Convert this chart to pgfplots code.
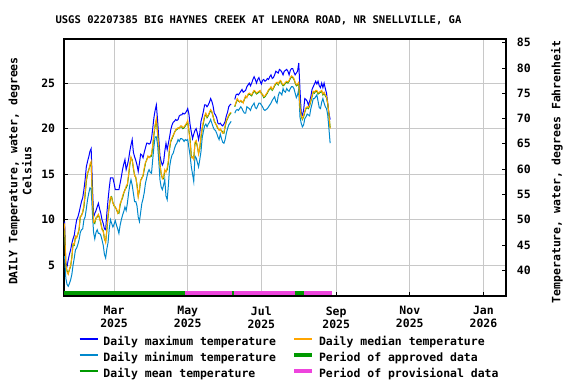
\documentclass[border=0pt]{standalone}
\usepackage{fontspec}
\setmainfont{DejaVu Sans Mono}
\usepackage{pgfplots}
\usepackage{pgfplotstable}
\pgfplotsset{compat=1.18}
\definecolor{cmax}{RGB}{0,0,255}
\definecolor{cmin}{RGB}{0,136,204}
\definecolor{cmean}{RGB}{0,153,0}
\definecolor{cmed}{RGB}{255,165,0}
\definecolor{cappr}{RGB}{0,153,0}
\definecolor{cprov}{RGB}{238,68,221}
\definecolor{cgrid}{RGB}{200,200,200}
\newcommand{\lblfont}{\fontsize{8.6}{10.5}\selectfont\bfseries}
\pgfplotstableread{
d mx mn mean med
18 9.8 6.0 8.8 9.6
19 5.2 3.6 5.0 5.1
20 4.9 2.9 4.4 4.3
21 5.6 2.7 4.1 4.0
22 6.2 3.0 4.5 4.6
23 6.7 3.4 4.9 5.0
24 7.4 4.0 5.9 5.8
25 7.9 5.0 7.3 7.4
26 8.3 5.8 7.2 7.3
27 9.2 6.7 8.1 8.2
28 10.0 6.9 8.1 8.0
29 10.3 7.3 8.4 8.5
30 10.8 7.8 8.9 9.0
31 11.4 8.6 10.3 10.4
32 12.0 8.9 10.5 10.4
33 12.4 9.0 10.8 10.9
34 13.3 10.0 11.4 11.6
35 14.4 10.3 12.7 12.9
36 15.8 11.2 14.2 14.4
37 16.4 12.2 15.0 15.2
38 16.9 12.9 15.5 15.4
39 17.5 13.5 15.9 16.1
40 17.8 13.4 16.2 16.4
41 14.0 10.8 12.6 12.4
42 10.3 8.6 9.8 9.7
43 10.7 7.9 9.6 9.8
44 11.0 8.6 10.2 10.1
45 11.4 8.9 10.3 10.4
46 11.8 8.5 10.5 10.6
47 11.2 8.5 10.2 10.1
48 10.7 8.3 9.6 9.7
49 10.0 7.8 9.0 8.9
50 9.6 7.2 8.8 8.7
51 9.0 6.2 7.9 8.0
52 8.9 5.8 7.6 7.5
53 10.7 6.8 8.8 9.0
54 12.2 7.5 10.3 10.5
55 13.5 9.0 11.5 11.6
56 14.6 10.0 12.3 12.5
57 14.6 9.6 12.5 12.4
58 14.6 9.2 11.9 11.8
59 14.0 9.5 11.5 11.6
60 13.3 9.9 11.4 11.3
61 13.3 9.4 11.1 11.2
62 13.3 9.0 10.8 10.7
63 13.3 8.5 10.7 10.9
64 14.0 9.4 11.6 11.8
65 14.7 10.0 12.1 12.0
66 15.5 10.5 12.4 12.6
67 16.1 10.9 12.9 13.0
68 16.6 11.4 13.3 13.2
69 15.5 11.0 13.5 13.7
70 16.0 11.8 13.8 13.9
71 16.6 12.9 14.8 15.0
72 17.5 13.8 16.0 16.1
73 18.2 14.4 16.8 16.9
74 18.8 13.8 16.6 16.5
75 17.4 12.9 15.6 15.8
76 16.9 12.0 14.9 14.8
77 16.5 12.0 14.6 14.7
78 16.0 11.5 13.8 13.7
79 15.3 10.3 12.6 12.5
80 16.2 9.8 13.2 13.4
81 17.2 10.8 14.3 14.4
82 17.1 11.8 14.6 14.5
83 16.8 12.3 14.8 14.9
84 17.4 13.0 15.5 15.7
85 17.9 14.0 16.2 16.3
86 18.4 14.6 16.6 16.5
87 18.4 15.2 16.9 17.0
88 18.3 15.5 16.9 16.8
89 18.4 15.2 16.9 17.0
90 18.9 15.1 17.0 17.2
91 20.0 16.6 18.0 18.2
92 21.2 18.0 19.3 19.5
93 22.0 19.1 20.3 20.4
94 22.6 19.1 20.9 21.1
95 21.0 18.3 19.6 19.5
96 19.0 16.5 18.0 18.1
97 17.0 14.4 16.2 16.0
98 16.4 13.6 15.0 15.1
99 16.0 13.3 14.6 14.5
100 16.3 13.8 14.5 14.7
101 17.5 14.4 15.4 15.5
102 18.4 12.6 15.3 15.2
103 17.7 12.2 15.5 15.7
104 18.4 13.8 16.3 16.5
105 19.1 15.8 17.8 18.0
106 19.9 16.6 18.6 18.7
107 20.4 17.1 18.9 19.0
108 20.7 17.3 19.2 19.3
109 20.8 17.8 19.6 19.5
110 21.0 18.2 19.8 19.9
111 20.9 18.4 19.9 20.0
112 21.0 18.8 20.0 20.1
113 21.4 18.6 20.1 20.0
114 21.5 18.9 20.2 20.3
115 21.5 18.9 20.2 20.3
116 21.7 18.8 20.0 20.1
117 21.6 18.6 20.1 20.2
118 21.7 18.8 20.3 20.4
119 21.9 18.7 20.5 20.6
120 22.2 18.8 20.7 20.9
121 21.6 17.9 19.8 19.7
122 20.4 17.0 18.8 18.6
123 19.6 15.8 17.0 16.8
124 18.9 15.0 16.8 16.9
125 19.4 14.2 16.8 16.6
126 19.8 17.0 18.3 18.5
127 20.0 16.8 18.6 18.7
128 19.5 16.3 18.0 18.1
129 18.8 15.8 17.3 17.2
130 19.5 16.6 17.8 17.9
131 20.8 17.5 19.0 19.2
132 21.3 19.0 20.0 20.1
133 21.9 19.7 20.6 20.8
134 22.6 20.3 21.3 21.4
135 22.6 20.5 21.6 21.7
136 22.4 20.2 21.2 21.3
137 22.6 20.5 21.4 21.5
138 22.9 20.7 21.7 21.8
139 23.3 21.0 22.0 22.1
140 23.0 20.6 21.8 21.9
141 22.5 20.2 21.4 21.3
142 21.7 19.9 20.8 20.9
143 21.5 19.8 20.6 20.5
144 21.2 19.5 20.3 20.4
145 20.6 19.1 20.0 20.1
146 20.5 18.8 19.9 19.8
147 20.6 19.4 19.9 20.0
148 20.4 18.9 19.8 19.7
149 20.3 18.5 19.6 19.5
150 20.5 18.4 19.5 19.6
151 20.8 18.8 20.2 20.3
152 21.4 19.5 20.8 20.9
153 21.8 20.0 21.1 21.2
154 22.4 20.4 21.4 21.5
155 22.6 20.6 21.6 21.7
156 22.7 20.8 21.7 21.8
157 nan nan nan nan
158 nan nan nan nan
159 23.2 21.7 22.4 22.5
160 23.7 22.0 22.8 22.9
161 23.8 22.1 23.2 23.3
162 23.7 22.0 23.0 23.1
163 23.9 22.2 23.0 22.9
164 24.1 22.4 23.0 23.1
165 24.3 22.2 22.9 23.0
166 24.0 21.9 22.9 22.8
167 24.1 21.7 23.2 23.3
168 24.2 21.7 23.5 23.6
169 24.6 22.4 23.5 23.4
170 24.8 22.3 23.7 23.8
171 25.0 22.2 23.8 23.9
172 24.7 22.0 23.7 23.8
173 25.0 22.4 23.6 23.7
174 25.4 22.6 23.9 24.0
175 25.7 22.8 24.1 24.2
176 25.4 22.3 24.0 24.1
177 25.0 22.2 23.8 23.9
178 25.4 22.5 23.9 24.0
179 25.6 22.8 24.0 24.1
180 25.2 22.8 24.1 24.2
181 24.9 22.6 23.9 23.8
182 25.3 22.4 23.7 23.8
183 25.4 22.1 23.4 23.5
184 25.2 22.0 23.5 23.6
185 25.3 22.1 23.7 23.8
186 25.5 22.2 23.9 24.0
187 25.4 22.4 24.2 24.3
188 25.7 22.6 24.3 24.4
189 25.9 22.8 24.5 24.6
190 25.5 23.1 24.2 24.3
191 25.6 23.3 24.4 24.5
192 25.9 23.5 24.7 24.8
193 26.3 23.0 24.9 25.0
194 26.2 22.8 25.0 25.1
195 26.1 23.6 24.8 24.9
196 26.5 24.0 25.1 25.2
197 26.4 23.9 25.2 25.3
198 26.2 23.7 24.9 25.0
199 25.9 24.4 24.7 24.8
200 26.3 24.1 24.8 24.9
201 26.4 24.0 25.0 25.1
202 26.5 24.4 25.1 25.2
203 26.3 24.2 25.0 25.1
204 25.9 24.1 25.2 25.3
205 26.4 24.4 25.5 25.6
206 26.6 24.6 25.7 25.8
207 26.6 24.6 25.6 25.7
208 26.2 24.4 25.4 25.5
209 25.9 23.9 25.0 25.1
210 26.1 23.4 24.7 24.8
211 26.3 23.7 24.8 24.9
212 27.2 24.3 25.0 25.1
213 24.3 21.3 22.5 22.3
214 21.8 20.6 21.4 21.5
215 21.5 20.2 21.0 21.1
216 22.0 20.4 21.3 21.4
217 23.3 21.1 21.8 21.9
218 23.2 21.3 22.2 22.3
219 23.0 21.6 22.3 22.4
220 22.6 21.5 22.2 22.3
221 23.0 21.4 22.5 22.6
222 23.5 22.2 23.0 23.1
223 24.3 22.7 23.5 23.6
224 24.6 23.3 24.0 24.1
225 24.9 23.3 23.9 24.0
226 25.2 23.5 24.1 24.2
227 24.9 23.7 24.1 24.2
228 25.2 23.0 23.8 23.9
229 24.7 22.3 23.9 24.0
230 24.5 22.2 24.0 24.1
231 25.0 22.9 24.1 24.2
232 24.5 23.3 23.7 23.8
233 25.0 22.8 23.9 24.0
234 24.4 22.4 23.6 23.7
235 23.9 22.2 23.4 23.5
236 22.8 21.5 22.7 22.8
237 21.7 20.0 21.5 21.6
238 21.0 18.4 20.1 20.0
}\temps
\begin{document}
\begin{tikzpicture}
\useasboundingbox (0pt,0pt) rectangle (432pt,288pt);
\begin{axis}[
  at={(48pt,66pt)}, anchor=south west,
  scale only axis, width=331.5pt, height=192.75pt,
  xmin=17.5, xmax=383.7, ymin=1.63, ymax=29.84,
  unbounded coords=jump,
  axis line style={black, line width=1pt},
  grid=major, major grid style={cgrid, line width=0.8pt},
  tick align=inside, major tick length=3pt,
  tick style={black, line width=0.6pt},
  xtick={59,120,181,243,304,365},
  xticklabels={{Mar\\2025},{May\\2025},{Jul\\2025},{Sep\\2025},{Nov\\2025},{Jan\\2026}},
  xticklabel style={align=center, font=\fontsize{8.6}{9.75}\selectfont\bfseries, inner sep=0pt, yshift=-7.75pt},
  xtick pos=bottom, ytick pos=left,
  ytick={5,10,15,20,25},
  yticklabel style={font=\lblfont, inner sep=0pt, xshift=-6.5pt},
  /pgf/number format/assume math mode=true,
  title={USGS 02207385 BIG HAYNES CREEK AT LENORA ROAD, NR SNELLVILLE, GA},
  title style={font=\fontsize{7.9}{9}\selectfont\bfseries, at={(axis description cs:0.44,1.043)}, anchor=center},
  ylabel={DAILY Temperature, water, degrees\\Celsius},
  ylabel style={font=\fontsize{8.6}{10.5}\selectfont\bfseries, align=center, at={(axis description cs:-0.0995,0.486)}, anchor=center},
  legend columns=2,
  legend cell align=left,
  legend style={at={(axis description cs:0.0339,-0.160)}, anchor=north west, draw=none, fill=none,
    inner sep=0pt, outer sep=0pt, row sep=3.5pt,
    font=\lblfont,
    nodes={inner sep=0pt, text height=6.5pt, text depth=2pt},
    /tikz/every odd column/.append style={column sep=3.75pt},
    /tikz/every even column/.append style={column sep=12pt}},
]
\addplot[cappr, line width=3pt, forget plot] coordinates {(17.5,1.92) (117.7,1.92)};
\addplot[cprov, line width=3pt, forget plot] coordinates {(117.7,1.92) (156.3,1.92)};
\addplot[cappr, line width=3pt, forget plot] coordinates {(156.3,1.92) (158.0,1.92)};
\addplot[cprov, line width=3pt, forget plot] coordinates {(158.0,1.92) (208.8,1.92)};
\addplot[cappr, line width=3pt, forget plot] coordinates {(208.8,1.92) (216.2,1.92)};
\addplot[cprov, line width=3pt, forget plot] coordinates {(216.2,1.92) (239.4,1.92)};
\addplot[cmax, line width=0.75pt, forget plot] table[x=d, y=mx] {\temps};
\addplot[cmin, line width=0.75pt, forget plot] table[x=d, y=mn] {\temps};
\addplot[cmean, line width=0.75pt, forget plot] table[x=d, y=mean] {\temps};
\addplot[cmed, line width=0.75pt, forget plot] table[x=d, y=med] {\temps};
\addlegendimage{legend image code/.code={\draw[cmax, line width=1.1pt] (0pt,2.8pt) -- (13.5pt,2.8pt);}}
\addlegendentry{Daily maximum temperature}
\addlegendimage{legend image code/.code={\draw[cmed, line width=1.1pt] (0pt,2.8pt) -- (13.5pt,2.8pt);}}
\addlegendentry{Daily median temperature}
\addlegendimage{legend image code/.code={\draw[cmin, line width=1.1pt] (0pt,2.8pt) -- (13.5pt,2.8pt);}}
\addlegendentry{Daily minimum temperature}
\addlegendimage{legend image code/.code={\draw[cappr, line width=3pt] (0pt,2.8pt) -- (13.5pt,2.8pt);}}
\addlegendentry{Period of approved data}
\addlegendimage{legend image code/.code={\draw[cmean, line width=1.1pt] (0pt,2.8pt) -- (13.5pt,2.8pt);}}
\addlegendentry{Daily mean temperature}
\addlegendimage{legend image code/.code={\draw[cprov, line width=3pt] (0pt,2.8pt) -- (13.5pt,2.8pt);}}
\addlegendentry{Period of provisional data}
\end{axis}
\begin{axis}[
  at={(48pt,66pt)}, anchor=south west,
  scale only axis, width=331.5pt, height=192.75pt,
  xmin=17.5, xmax=383.7, ymin=34.934, ymax=85.712,
  axis x line=none, axis y line*=right,
  axis line style={black, line width=1pt},
  tick align=inside, major tick length=3pt,
  tick style={black, line width=0.6pt},
  ytick={40,45,50,55,60,65,70,75,80,85},
  yticklabel style={font=\lblfont, inner sep=0pt, xshift=8pt},
  /pgf/number format/assume math mode=true,
  ylabel={Temperature, water, degrees Fahrenheit},
  ylabel style={font=\lblfont, rotate=0, at={(axis description cs:1.1154,0.4825)}, anchor=center},
]
\addplot[draw=none] coordinates {(20,40)};
\end{axis}
\end{tikzpicture}
\end{document}
